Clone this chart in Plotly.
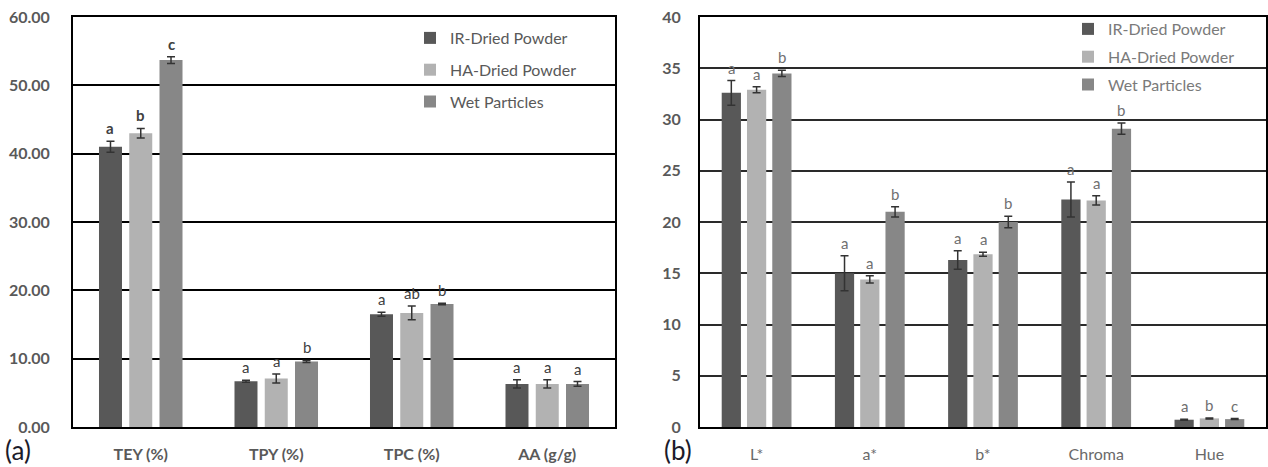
import plotly.graph_objects as go

# ---------------- data ----------------
series_names = ["IR-Dried Powder", "HA-Dried Powder", "Wet Particles"]

cats_a = ["TEY (%)", "TPY (%)", "TPC (%)", "AA (g/g)"]
ir_a = [41.0, 6.7, 16.5, 6.3]
ha_a = [43.0, 7.1, 16.7, 6.3]
wet_a = [53.7, 9.6, 18.0, 6.3]
ir_a_err = [0.8, 0.15, 0.3, 0.6]
ha_a_err = [0.7, 0.65, 1.0, 0.6]
wet_a_err = [0.5, 0.15, 0.1, 0.35]
ir_a_lbl = ["a", "a", "a", "a"]
ha_a_lbl = ["b", "a", "ab", "a"]
wet_a_lbl = ["c", "b", "b", "a"]

cats_b = ["L*", "a*", "b*", "Chroma", "Hue"]
ir_b = [32.6, 15.0, 16.3, 22.2, 0.71]
ha_b = [32.9, 14.4, 16.85, 22.1, 0.84]
wet_b = [34.5, 21.0, 20.0, 29.1, 0.77]
ir_b_err = [1.2, 1.7, 0.9, 1.7, 0.05]
ha_b_err = [0.3, 0.35, 0.2, 0.45, 0.05]
wet_b_err = [0.3, 0.5, 0.55, 0.55, 0.05]
ir_b_lbl = ["a", "a", "a", "a", "a"]
ha_b_lbl = ["a", "a", "a", "a", "b"]
wet_b_lbl = ["b", "b", "b", "b", "c"]

colors = ["#585858", "#b2b2b2", "#878787"]
FONT = "Lato"
W, H = 1268, 467
ML, MR, MT, MB = 0, 0, 17, 40

BARGAP = 0.33
BARGROUPGAP = 0.24

fig = go.Figure()

panels = [
    dict(cats=cats_a, vals=[ir_a, ha_a, wet_a], errs=[ir_a_err, ha_a_err, wet_a_err],
         lbls=[ir_a_lbl, ha_a_lbl, wet_a_lbl], xa="x", ya="y", legend="legend"),
    dict(cats=cats_b, vals=[ir_b, ha_b, wet_b], errs=[ir_b_err, ha_b_err, wet_b_err],
         lbls=[ir_b_lbl, ha_b_lbl, wet_b_lbl], xa="x2", ya="y2", legend="legend2"),
]

annotations = []
for pi, p in enumerate(panels):
    for k in range(3):
        fig.add_trace(go.Bar(
            name=series_names[k], x=p["cats"], y=p["vals"][k],
            marker=dict(color=colors[k], line=dict(width=0)),
            error_y=dict(type="data", array=p["errs"][k], visible=True,
                         color="#333333", thickness=1.5, width=4),
            xaxis=p["xa"], yaxis=p["ya"], legend=p["legend"],
            legendgroup=f"{pi}-{k}", offsetgroup=str(k),
        ))
        slot = (1 - BARGAP) / 3
        for i, lab in enumerate(p["lbls"][k]):
            bold = (pi == 0 and i == 0)
            annotations.append(dict(
                x=i + (k - 1) * slot, y=p["vals"][k][i] + p["errs"][k][i],
                xref=p["xa"], yref=p["ya"], text=f"<b>{lab}</b>" if bold else lab,
                showarrow=False, yanchor="middle", yshift=13,
                font=dict(family=FONT, size=15,
                          color="#404040" if pi == 0 else "#707070"),
            ))

annotations.append(dict(x=3 / W, y=(427 - 450) / 410, xref="paper", yref="paper",
                        text="(a)", showarrow=False, xanchor="left", yanchor="middle",
                        font=dict(family=FONT, size=26, color="#1b1b2a")))
annotations.append(dict(x=662 / W, y=(427 - 450) / 410, xref="paper", yref="paper",
                        text="(b)", showarrow=False, xanchor="left", yanchor="middle",
                        font=dict(family=FONT, size=26, color="#1b1b2a")))

axis_common = dict(showline=True, mirror=True, linecolor="#000000", linewidth=2,
                   ticks="", zeroline=False)

fig.update_layout(
    width=W, height=H, margin=dict(l=ML, r=MR, t=MT, b=MB),
    paper_bgcolor="white", plot_bgcolor="white",
    barmode="group", bargap=BARGAP, bargroupgap=BARGROUPGAP,
    xaxis=dict(domain=[73 / W, 615 / W], anchor="y", showgrid=False,
               tickfont=dict(family=FONT, size=16, color="#595959", weight="bold"),
               ticklabelstandoff=12, **axis_common),
    yaxis=dict(anchor="x", range=[0, 60], dtick=10, tickformat=".2f",
               showgrid=True, gridcolor="#000000", gridwidth=2,
               tickfont=dict(family=FONT, size=16, color="#595959", weight="bold"),
               ticklabelstandoff=18, **axis_common),
    xaxis2=dict(domain=[700 / W, 1266 / W], anchor="y2", showgrid=False,
                tickfont=dict(family=FONT, size=16, color="#6a6a6a"),
                ticklabelstandoff=12, **axis_common),
    yaxis2=dict(anchor="x2", range=[0, 40], dtick=5,
                showgrid=True, gridcolor="#2a2a2a", gridwidth=2,
                tickfont=dict(family=FONT, size=16, color="#595959", weight="bold"),
                ticklabelstandoff=14, **axis_common),
    legend=dict(x=410 / W, y=(427 - 21) / 410, xanchor="left", yanchor="top",
                bgcolor="rgba(0,0,0,0)", tracegroupgap=8,
                font=dict(family=FONT, size=16, color="#595959")),
    legend2=dict(x=1068 / W, y=(427 - 12) / 410, xanchor="left", yanchor="top",
                 bgcolor="rgba(0,0,0,0)", tracegroupgap=4,
                 font=dict(family=FONT, size=16, color="#7a7a7a")),
    annotations=annotations,
    showlegend=True,
)

fig.write_html("out.html", config={"displayModeBar": False},
               post_script="document.body.style.margin='0';document.body.style.overflow='hidden';")
